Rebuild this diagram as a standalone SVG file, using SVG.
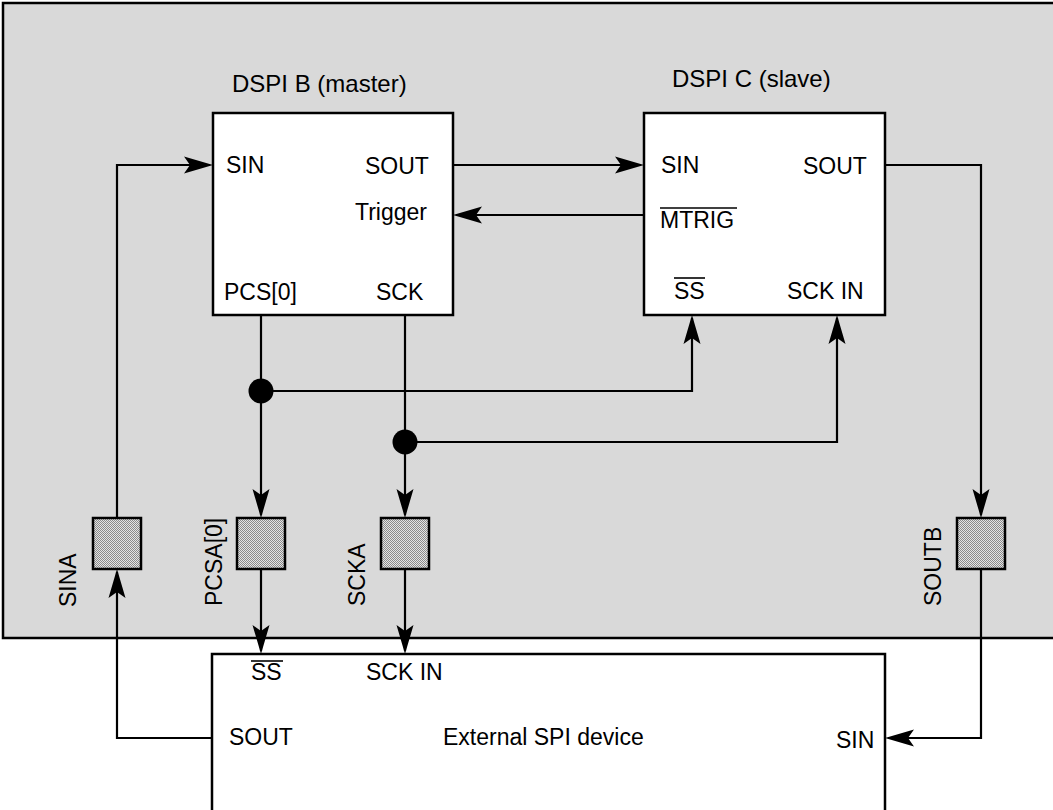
<svg xmlns="http://www.w3.org/2000/svg" width="1053" height="810" viewBox="0 0 1053 810">
  <style>
    .t { font-family: "Liberation Sans", Arial, sans-serif; font-size: 23px; fill: #000; }
    .h { font-family: "Liberation Sans", Arial, sans-serif; font-size: 24px; fill: #000; }
    .box { fill: #fff; stroke: #000; stroke-width: 2.5; }
    .pad { fill: url(#dither); stroke: #000; stroke-width: 2.5; }
    .w { fill: none; stroke: #000; stroke-width: 2.2; }
    .wa { fill: none; stroke: #000; stroke-width: 2.2; marker-end: url(#arr); }
    .ov { stroke: #000; stroke-width: 1.6; }
  </style>
  <defs>
    <pattern id="dither" width="2" height="2" patternUnits="userSpaceOnUse">
      <rect width="2" height="2" fill="#e4e4e4"/>
      <rect width="1" height="1" fill="#8a8a8a"/>
      <rect x="1" y="1" width="1" height="1" fill="#8a8a8a"/>
    </pattern>
    <marker id="arr" viewBox="-28 -10 32 20" markerWidth="32" markerHeight="20" refX="0" refY="0" orient="auto" markerUnits="userSpaceOnUse">
      <path d="M3,0 L-26,-8.5 L-20,0 L-26,8.5 Z" fill="#000"/>
    </marker>
  </defs>

  <rect width="1053" height="810" fill="#fff"/>

  <g id="panel">
    <rect x="3" y="3" width="1065" height="635" fill="#d9d9d9" stroke="#000" stroke-width="2.5"/>
    <text class="h" x="232" y="92">DSPI B (master)</text>
    <text class="h" x="672" y="87">DSPI C (slave)</text>
  </g>

  <g id="dspiB">
    <rect class="box" x="213" y="113" width="240" height="202"/>
    <text class="t" x="226" y="173">SIN</text>
    <text class="t" x="365" y="174">SOUT</text>
    <text class="t" x="355" y="220">Trigger</text>
    <text class="t" x="224" y="300">PCS[0]</text>
    <text class="t" x="376" y="300">SCK</text>
  </g>

  <g id="dspiC">
    <rect class="box" x="644" y="113" width="241" height="202"/>
    <text class="t" x="661" y="173">SIN</text>
    <text class="t" x="803" y="174">SOUT</text>
    <text class="t" x="660" y="228">MTRIG</text>
    <line class="ov" x1="660" y1="208" x2="737" y2="208"/>
    <text class="t" x="674" y="299">SS</text>
    <line class="ov" x1="674" y1="278" x2="705" y2="278"/>
    <text class="t" x="787" y="299">SCK IN</text>
  </g>

  <g id="external">
    <rect class="box" x="212" y="654" width="673" height="200"/>
    <text class="t" x="251" y="680">SS</text>
    <line class="ov" x1="251" y1="661" x2="283" y2="661"/>
    <text class="t" x="366" y="680">SCK IN</text>
    <text class="t" x="229" y="745">SOUT</text>
    <text class="t" x="443" y="745">External SPI device</text>
    <text class="t" x="836" y="748">SIN</text>
  </g>

  <g id="padSINA">
    <rect class="pad" x="93" y="518" width="48" height="51"/>
    <text class="t" transform="translate(76,607) rotate(-90)">SINA</text>
  </g>
  <g id="padPCSA">
    <rect class="pad" x="237" y="518" width="48" height="51"/>
    <text class="t" transform="translate(222,606) rotate(-90)">PCSA[0]</text>
  </g>
  <g id="padSCKA">
    <rect class="pad" x="381" y="518" width="48" height="51"/>
    <text class="t" transform="translate(365,606) rotate(-90)">SCKA</text>
  </g>
  <g id="padSOUTB">
    <rect class="pad" x="957" y="518" width="48" height="51"/>
    <text class="t" transform="translate(941,606) rotate(-90)">SOUTB</text>
  </g>

  <g id="connectors">
    <!-- SINA pad to DSPI B SIN -->
    <polyline class="wa" points="117,518 117,165 210,165"/>
    <!-- External SOUT to SINA pad -->
    <polyline class="wa" points="212,738 117,738 117,572"/>
    <!-- B SOUT to C SIN -->
    <polyline class="wa" points="453,165 641,165"/>
    <!-- C MTRIG to B Trigger -->
    <polyline class="wa" points="644,215 456,215"/>
    <!-- PCS[0] down to PCSA pad -->
    <polyline class="wa" points="261,315 261,515"/>
    <!-- PCS branch to C SS -->
    <polyline class="wa" points="261,391 692,391 692,318"/>
    <!-- SCK down to SCKA pad -->
    <polyline class="wa" points="405,315 405,515"/>
    <!-- SCK branch to C SCK IN -->
    <polyline class="wa" points="405,442 837,442 837,318"/>
    <!-- PCSA pad to external SS -->
    <polyline class="wa" points="261,569 261,651"/>
    <!-- SCKA pad to external SCK IN -->
    <polyline class="wa" points="405,569 405,651"/>
    <!-- C SOUT to SOUTB pad -->
    <polyline class="wa" points="885,165 981,165 981,515"/>
    <!-- SOUTB pad to external SIN -->
    <polyline class="wa" points="981,569 981,738 888,738"/>
    <circle cx="261" cy="391" r="12.5" fill="#000"/>
    <circle cx="405" cy="442" r="12.5" fill="#000"/>
  </g>
</svg>
